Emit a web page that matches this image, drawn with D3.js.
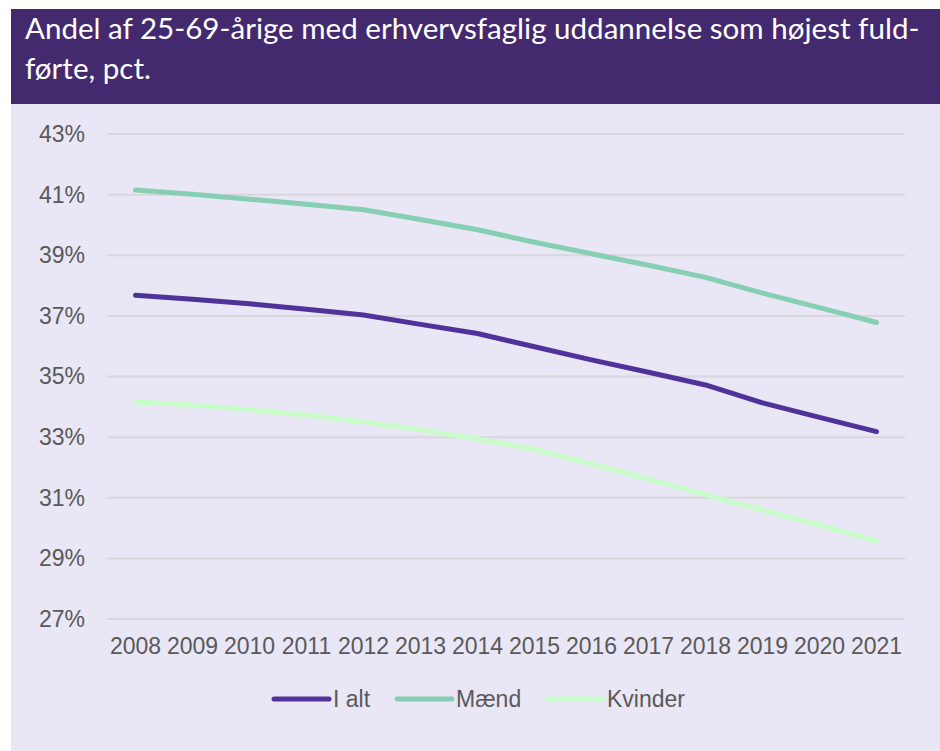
<!DOCTYPE html>
<html>
<head>
<meta charset="utf-8">
<script src="https://cdn.jsdelivr.net/npm/d3@7"></script>
<style>
  body { margin: 0; background: #fff; }
  svg { display: block; }
</style>
</head>
<body>
<div class="canvas"></div>
<script>
var years = ["2008", "2009", "2010", "2011", "2012", "2013", "2014", "2015", "2016", "2017", "2018", "2019", "2020", "2021"];
var iAlt = [37.68, 37.55, 37.40, 37.22, 37.03, 36.72, 36.42, 35.98, 35.55, 35.14, 34.72, 34.13, 33.65, 33.18];
var maend = [41.15, 41.01, 40.85, 40.68, 40.50, 40.18, 39.84, 39.43, 39.05, 38.67, 38.27, 37.75, 37.27, 36.78];
var kvinder = [34.17, 34.06, 33.90, 33.72, 33.51, 33.24, 32.94, 32.60, 32.11, 31.62, 31.10, 30.60, 30.10, 29.58];
var yTicks = [27, 29, 31, 33, 35, 37, 39, 41, 43];
var titleLines = ["Andel af 25-69-årige med erhvervsfaglig uddannelse som højest fuld-", "førte, pct."];

var series = [
  { name: "I alt", values: iAlt, color: "#50339a" },
  { name: "Mænd", values: maend, color: "#86cfb3" },
  { name: "Kvinder", values: kvinder, color: "#c8fdca" }
];

var W = 940, H = 751;
var svg = d3.select(".canvas").append("svg")
  .attr("width", W)
  .attr("height", H);

// panel
svg.append("rect")
  .attr("x", 11).attr("y", 104)
  .attr("width", W - 11).attr("height", H - 104)
  .attr("fill", "#e9e6f5");
svg.append("rect")
  .attr("x", 11).attr("y", 9)
  .attr("width", W - 11).attr("height", 95)
  .attr("fill", "#43296e");

// title, fitted to the header width
var title = svg.append("g")
  .attr("font-family", "Lato, 'Open Sans', sans-serif")
  .attr("fill", "#fff");
var t1 = title.append("text").attr("x", 25).attr("y", 39).attr("font-size", 27).text(titleLines[0]);
var fs = 27 * 895 / t1.node().getComputedTextLength();
t1.attr("font-size", fs);
title.append("text").attr("x", 25).attr("y", 79).attr("font-size", fs).text(titleLines[1]);

var plotLeft = 107, plotRight = 905, plotTop = 134, plotBottom = 619;

var x = d3.scaleBand().domain(years).range([plotLeft, plotRight]);
var y = d3.scaleLinear().domain([27, 43]).range([plotBottom, plotTop]);

var font = "'Liberation Sans', Arial, sans-serif";

// grid
svg.append("g")
  .selectAll("line")
  .data(yTicks)
  .enter()
  .append("line")
  .attr("x1", plotLeft).attr("x2", plotRight)
  .attr("y1", function(d) { return y(d); })
  .attr("y2", function(d) { return y(d); })
  .attr("stroke", "#d9d6dc")
  .attr("stroke-width", 2);

// y axis
var yAxis = svg.append("g")
  .attr("transform", "translate(" + (plotLeft - 20) + ",0)")
  .call(d3.axisLeft(y).tickValues(yTicks).tickSize(0).tickPadding(2)
    .tickFormat(function(d) { return d + "%"; }));
yAxis.select(".domain").remove();
yAxis.selectAll("text")
  .attr("font-family", font)
  .attr("font-size", 23)
  .attr("fill", "#595959");

// x axis
var xAxis = svg.append("g")
  .attr("transform", "translate(0," + plotBottom + ")")
  .call(d3.axisBottom(x).tickSize(0).tickPadding(19));
xAxis.select(".domain").remove();
xAxis.selectAll("text")
  .attr("font-family", font)
  .attr("font-size", 23)
  .attr("fill", "#595959");

// lines
var line = d3.line()
  .x(function(d, i) { return x(years[i]) + x.bandwidth() / 2; })
  .y(function(d) { return y(d); });

svg.append("g")
  .selectAll("path")
  .data(series.slice().reverse())
  .enter()
  .append("path")
  .attr("d", function(s) { return line(s.values); })
  .attr("fill", "none")
  .attr("stroke", function(s) { return s.color; })
  .attr("stroke-width", 5)
  .attr("stroke-linecap", "round")
  .attr("stroke-linejoin", "round");

// legend
var legendX = [274, 397, 548];
var legend = svg.append("g")
  .selectAll("g")
  .data(series)
  .enter()
  .append("g")
  .attr("transform", function(d, i) { return "translate(" + legendX[i] + ",699)"; });
legend.append("line")
  .attr("x1", 0).attr("x2", 55)
  .attr("stroke", function(d) { return d.color; })
  .attr("stroke-width", 5)
  .attr("stroke-linecap", "round");
legend.append("text")
  .attr("x", 59).attr("y", 8)
  .attr("font-family", font)
  .attr("font-size", 23)
  .attr("fill", "#595959")
  .text(function(d) { return d.name; });
</script>
</body>
</html>
